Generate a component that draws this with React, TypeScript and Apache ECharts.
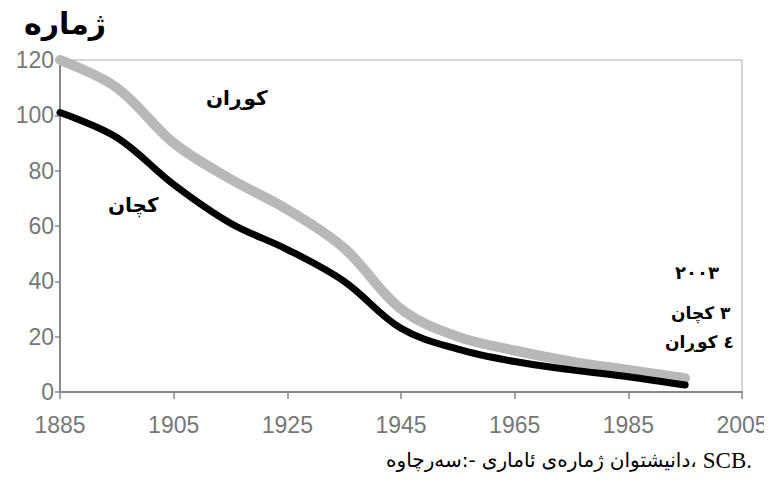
import React, { useEffect, useRef } from "react";
import * as echarts from "echarts";

const years = [1885, 1895, 1905, 1915, 1925, 1935, 1945, 1955, 1965, 1975, 1985, 1995];
const boys = [120, 110, 90, 77, 66, 52, 30, 20, 15, 11, 8, 5];
const girls = [101, 92, 75, 61, 51.5, 40, 23, 15.5, 11, 8, 5.5, 2.5];
const yTicks = [0, 20, 40, 60, 80, 100, 120];
const xTicks = [1885, 1905, 1925, 1945, 1965, 1985, 2005];

const yTitle = "ژمارە";
const boysLabel = "کوڕان";
const girlsLabel = "کچان";
const noteYear = "٢٠٠٣";
const noteGirls = "٣ کچان";
const noteBoys = "٤ کوڕان";
const sourceWords = ["سەرچاوە:-", "ئاماری", "ژمارەی", "دانیشتوان،", "SCB."];

export default function App() {
  const ref = useRef<HTMLDivElement>(null);
  useEffect(() => {
    if (!ref.current) return;
    const chart = echarts.init(ref.current, null, { renderer: "svg" });
    const arabicFont = "'DejaVu Sans', 'Noto Sans', sans-serif";
    const latinSerif = "'Liberation Serif', 'DejaVu Serif', serif";
    const tickFont = "'Liberation Sans Narrow', 'Liberation Sans', Arial, sans-serif";

    // lay out the source line word by word, left to right, ending at x = 752
    const canvas = document.createElement("canvas");
    const ctx = canvas.getContext("2d")!;
    const fontFor = (w: string) => (/[A-Za-z]/.test(w) ? `23px ${latinSerif}` : `20px ${arabicFont}`);
    const gap = 6;
    const widths = sourceWords.map((w) => {
      ctx.font = fontFor(w);
      return ctx.measureText(w).width;
    });
    const total = widths.reduce((a, b) => a + b, 0) + gap * (sourceWords.length - 1);
    let cursor = 752 - total;
    const sourceGraphics = sourceWords.map((w, i) => {
      const g = {
        type: "text",
        x: cursor,
        y: 460,
        style: { text: w, font: fontFor(w), fill: "#000", textVerticalAlign: "middle", verticalAlign: "middle" },
      };
      cursor += widths[i] + gap;
      return g;
    });

    chart.setOption({
      animation: false,
      backgroundColor: "#ffffff",
      grid: {
        left: 60,
        right: 30,
        top: 60,
        bottom: 98,
        show: true,
        borderColor: "#aaaaaa",
        borderWidth: 1,
      },
      xAxis: {
        type: "value",
        min: 1885,
        max: 2005,
        interval: 20,
        axisLine: { show: true, onZero: false, lineStyle: { color: "#888888", width: 2 } },
        axisTick: { show: true, length: 7, lineStyle: { color: "#888888", width: 1.5 } },
        axisLabel: {
          color: "#777777",
          fontSize: 23,
          fontFamily: tickFont,
          margin: 21,
          formatter: (v: number) => (xTicks.includes(v) ? String(v) : ""),
        },
        splitLine: { show: false },
      },
      yAxis: {
        type: "value",
        min: 0,
        max: 120,
        interval: 20,
        axisLine: { show: true, lineStyle: { color: "#888888", width: 2 } },
        axisTick: { show: true, length: 5, lineStyle: { color: "#888888", width: 1.5 } },
        axisLabel: {
          color: "#777777",
          fontSize: 23,
          fontFamily: tickFont,
          margin: 6,
          padding: [8, 0, 0, 0],
          formatter: (v: number) => (yTicks.includes(v) ? String(v) : ""),
        },
        splitLine: { show: false },
      },
      series: [
        {
          type: "line",
          name: boysLabel,
          data: years.map((y, i) => [y, boys[i]]),
          smooth: 0.35,
          showSymbol: false,
          lineStyle: { color: "#b8b8b8", width: 10, cap: "round", join: "round" },
        },
        {
          type: "line",
          name: girlsLabel,
          data: years.map((y, i) => [y, girls[i]]),
          smooth: 0.35,
          showSymbol: false,
          lineStyle: { color: "#000000", width: 7, cap: "round", join: "round" },
        },
      ],
      graphic: [
        {
          type: "text",
          left: 24,
          top: 8,
          style: { text: yTitle, font: `bold 30px ${arabicFont}`, fill: "#000" },
        },
        {
          type: "text",
          left: 206,
          top: 88,
          style: { text: boysLabel, font: `bold 20px ${arabicFont}`, fill: "#000" },
        },
        {
          type: "text",
          left: 108,
          top: 195,
          style: { text: girlsLabel, font: `bold 20px ${arabicFont}`, fill: "#000" },
        },
        {
          type: "text",
          left: 675,
          top: 263,
          style: { text: noteYear, font: `bold 18px ${arabicFont}`, fill: "#000" },
        },
        {
          type: "text",
          left: 671,
          top: 304,
          style: { text: noteGirls, font: `bold 17px ${arabicFont}`, fill: "#000" },
        },
        {
          type: "text",
          left: 665,
          top: 333,
          style: { text: noteBoys, font: `bold 17px ${arabicFont}`, fill: "#000" },
        },
        ...sourceGraphics,
      ],
    });
    return () => chart.dispose();
  }, []);
  return <div ref={ref} style={{ width: 772, height: 490, margin: -8 }} />;
}
